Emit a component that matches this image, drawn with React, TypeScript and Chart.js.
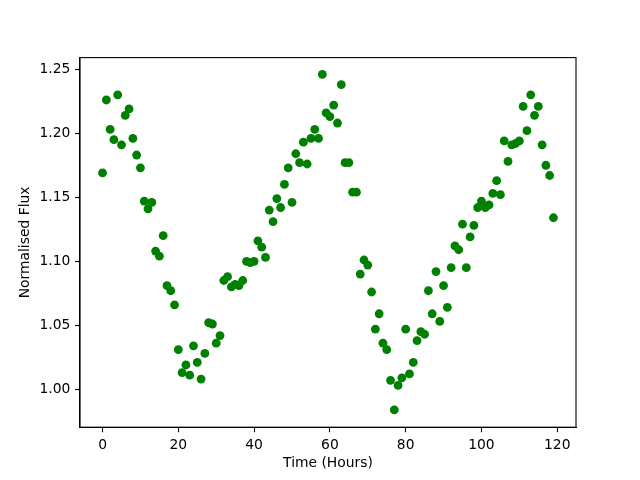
import React, { useEffect, useRef } from "react";
import { Chart, registerables } from "chart.js";

Chart.register(...registerables);

const flux: number[] = [
  1.169, 1.226, 1.203, 1.195, 1.230, 1.191, 1.214, 1.219, 1.196, 1.183,
  1.173, 1.147, 1.141, 1.146, 1.108, 1.104, 1.120, 1.081, 1.077, 1.066,
  1.031, 1.013, 1.019, 1.011, 1.034, 1.021, 1.008, 1.028, 1.052, 1.051,
  1.036, 1.042, 1.085, 1.088, 1.080, 1.082, 1.081, 1.085, 1.100, 1.099,
  1.100, 1.116, 1.111, 1.103, 1.140, 1.131, 1.149, 1.142, 1.160, 1.173,
  1.146, 1.184, 1.177, 1.193, 1.176, 1.196, 1.203, 1.196, 1.246, 1.216,
  1.213, 1.222, 1.208, 1.238, 1.177, 1.177, 1.154, 1.154, 1.090, 1.101,
  1.097, 1.076, 1.047, 1.059, 1.036, 1.031, 1.007, 0.984, 1.003, 1.009,
  1.047, 1.012, 1.021, 1.038, 1.045, 1.043, 1.077, 1.059, 1.092, 1.053,
  1.081, 1.064, 1.095, 1.112, 1.109, 1.129, 1.095, 1.119, 1.128, 1.142,
  1.147, 1.142, 1.144, 1.153, 1.163, 1.152, 1.194, 1.178, 1.191, 1.192,
  1.194, 1.221, 1.202, 1.230, 1.214, 1.221, 1.191, 1.175, 1.167, 1.134,
];

const hours: number[] = flux.map((_, i) => i);

const xTicks: number[] = [0, 20, 40, 60, 80, 100, 120];
const yTicks: number[] = [1.0, 1.05, 1.1, 1.15, 1.2, 1.25];

const xTitle = "Time (Hours)";
const yTitle = "Normalised Flux";

const FONT = "'DejaVu Sans', sans-serif";
const FS = 13.89;

const framePlugin = {
  id: "frame",
  afterDraw(chart: any) {
    const { ctx, chartArea } = chart;
    ctx.save();
    ctx.strokeStyle = "#000";
    ctx.lineWidth = 1.1;
    ctx.strokeRect(
      chartArea.left,
      chartArea.top,
      chartArea.right - chartArea.left,
      chartArea.bottom - chartArea.top
    );
    ctx.restore();
  },
};

export default function App() {
  const ref = useRef<HTMLCanvasElement | null>(null);

  useEffect(() => {
    if (!ref.current) return;
    const chart = new Chart(ref.current, {
      type: "scatter",
      data: {
        datasets: [
          {
            data: hours.map((h, i) => ({ x: h, y: flux[i] })),
            backgroundColor: "#008000",
            borderColor: "#008000",
            borderWidth: 0,
            pointRadius: 4.4,
            pointHoverRadius: 4.4,
          },
        ],
      },
      options: {
        animation: false,
        responsive: false,
        events: [],
        layout: { padding: { left: 0, right: 64, top: 57.6, bottom: 0 } },
        plugins: {
          legend: { display: false },
          tooltip: { enabled: false },
        },
        scales: {
          x: {
            type: "linear",
            min: -5.95,
            max: 124.95,
            afterFit: (s: any) => {
              s.height = 52.8;
            },
            afterBuildTicks: (s: any) => {
              s.ticks = xTicks.map((v) => ({ value: v }));
            },
            ticks: {
              color: "#000",
              font: { family: FONT, size: FS },
              padding: 4.9,
              maxRotation: 0,
              autoSkip: false,
              callback: (v: any) => String(v),
            },
            grid: {
              drawOnChartArea: false,
              drawTicks: true,
              tickLength: 5,
              tickColor: "#000",
              tickWidth: 1.1,
            },
            border: { display: true, color: "#000", width: 1.1 },
            title: {
              display: true,
              text: xTitle,
              color: "#000",
              font: { family: FONT, size: FS },
              padding: { top: 0, bottom: 8.6 },
            },
          },
          y: {
            type: "linear",
            min: 0.9704,
            max: 1.2591,
            afterFit: (s: any) => {
              s.width = 80;
            },
            afterBuildTicks: (s: any) => {
              s.ticks = yTicks.map((v) => ({ value: v }));
            },
            ticks: {
              color: "#000",
              font: { family: FONT, size: FS },
              padding: 4.6,
              autoSkip: false,
              callback: (v: any) => Number(v).toFixed(2),
            },
            grid: {
              drawOnChartArea: false,
              drawTicks: true,
              tickLength: 5,
              tickColor: "#000",
              tickWidth: 1.1,
            },
            border: { display: true, color: "#000", width: 1.1 },
            title: {
              display: true,
              text: yTitle,
              color: "#000",
              font: { family: FONT, size: FS },
              padding: { top: 17, bottom: 0 },
            },
          },
        },
      },
      plugins: [framePlugin],
    });
    return () => chart.destroy();
  }, []);

  return (
    <div style={{ position: "absolute", left: 0, top: 0, width: 640, height: 480, background: "#fff" }}>
      <canvas ref={ref} width={640} height={480} style={{ display: "block" }} />
    </div>
  );
}
